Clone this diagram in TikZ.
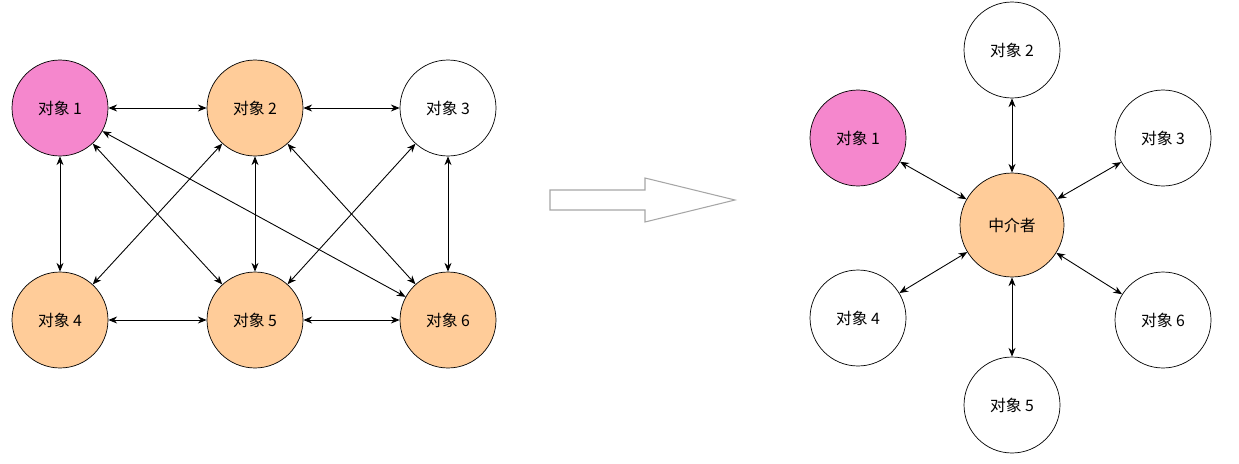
\documentclass[tikz,border=0pt]{standalone}
\usepackage{fontspec}
\setmainfont{Noto Sans CJK SC}
\usetikzlibrary{arrows.meta}
\definecolor{objpink}{RGB}{245,135,205}
\definecolor{objorange}{RGB}{255,204,153}
\tikzset{
  obj/.style={circle, draw, minimum size=1.92cm, inner sep=0pt, font=\fontsize{9}{11}\selectfont},
  link/.style={{Stealth[length=5pt,width=4pt]}-{Stealth[length=5pt,width=4pt]}, line width=0.5pt}
}
\begin{document}
\begin{tikzpicture}[x=0.02cm, y=-0.02cm]
\useasboundingbox (0,0) rectangle (1239,463);
% left: objects refer to each other
\node[obj, fill=objpink] (a1) at (60,108) {对象 1};
\node[obj, fill=objorange] (a2) at (255,108) {对象 2};
\node[obj, fill=white] (a3) at (448,108) {对象 3};
\node[obj, fill=objorange] (a4) at (60,320) {对象 4};
\node[obj, fill=objorange] (a5) at (255,320) {对象 5};
\node[obj, fill=objorange] (a6) at (448,320) {对象 6};
\foreach \s/\t in {a1/a2, a2/a3, a1/a4, a2/a5, a3/a6, a4/a5, a5/a6, a1/a5, a2/a4, a2/a6, a3/a5, a1/a6}
  \draw[link] (\s) -- (\t);
% hollow arrow
\draw[line width=0.6pt, draw=gray!70] (550,190) -- (645,190) -- (645,178) -- (735,200) -- (645,222) -- (645,210) -- (550,210) -- cycle;
% right: mediator
\node[obj, fill=objorange, minimum size=2.08cm] (med) at (1012,225) {中介者};
\node[obj, fill=objpink] (b1) at (858,138) {对象 1};
\node[obj, fill=white] (b2) at (1012,50) {对象 2};
\node[obj, fill=white] (b3) at (1163,138) {对象 3};
\node[obj, fill=white] (b4) at (858,318) {对象 4};
\node[obj, fill=white] (b5) at (1012,405) {对象 5};
\node[obj, fill=white] (b6) at (1163,320) {对象 6};
\foreach \t in {b1,b2,b3,b4,b5,b6}
  \draw[link] (med) -- (\t);
\end{tikzpicture}
\end{document}
